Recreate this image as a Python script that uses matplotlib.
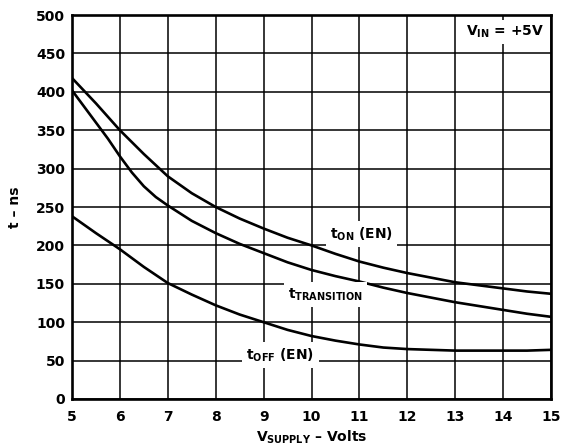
import matplotlib
matplotlib.use("Agg")
import matplotlib.pyplot as plt

plt.rcParams['font.family'] = ['DejaVu Sans']
plt.rcParams['font.weight'] = 'bold'
plt.rcParams['mathtext.fontset'] = 'custom'
plt.rcParams['mathtext.rm'] = 'DejaVu Sans:bold'
plt.rcParams['mathtext.bf'] = 'DejaVu Sans:bold'
plt.rcParams['mathtext.it'] = 'DejaVu Sans:bold'

# supply voltage (V)
v_on = [5, 5.5, 6, 6.5, 7, 7.5, 8, 8.5, 9, 9.5, 10, 10.5, 11, 11.5, 12, 12.5, 13, 13.5, 14, 14.5, 15]
t_on = [418, 385, 350, 319, 290, 268, 250, 235, 222, 210, 200, 189, 179, 171, 164, 158, 152, 148, 144, 140, 137]

v_tr = [5, 5.25, 5.5, 5.75, 6, 6.25, 6.5, 6.75, 7, 7.5, 8, 8.5, 9, 9.5, 10, 10.5, 11, 11.5, 12, 12.5, 13, 13.5, 14, 14.5, 15]
t_transition = [402, 381, 360, 339, 316, 295, 277, 263, 252, 232, 216, 202, 190, 178, 168, 160, 153, 145, 138, 132, 126, 121, 116, 111, 107]

v_off = [5, 5.5, 6, 6.5, 7, 7.5, 8, 8.5, 9, 9.5, 10, 10.5, 11, 11.5, 12, 12.5, 13, 13.5, 14, 14.5, 15]
t_off = [238, 216, 195, 172, 151, 136, 122, 110, 100, 90, 82, 76, 71, 67, 65, 64, 63, 63, 63, 63, 64]

x_ticks = list(range(5, 16))
y_ticks = list(range(0, 501, 50))

fig = plt.figure(figsize=(5.7, 4.48), dpi=100)
ax = fig.add_axes([0.1263, 0.1094, 0.8404, 0.857])

ax.plot(v_on, t_on, color='black', lw=1.9, zorder=3)
ax.plot(v_tr, t_transition, color='black', lw=1.9, zorder=3)
ax.plot(v_off, t_off, color='black', lw=1.9, zorder=3)

ax.set_xlim(5, 15)
ax.set_ylim(0, 500)
ax.set_xticks(x_ticks)
ax.set_yticks(y_ticks)
ax.grid(True, color='black', lw=1.1, zorder=1)
ax.set_axisbelow(True)
ax.tick_params(length=0, labelsize=10)
ax.tick_params(axis='x', pad=8)
ax.tick_params(axis='y', pad=5)
for s in ax.spines.values():
    s.set_linewidth(1.9)

ax.set_xlabel('V$_{\\mathrm{SUPPLY}}$ – Volts', fontsize=10, fontweight='bold', labelpad=3)
ax.set_ylabel('t – ns', fontsize=10, fontweight='bold', labelpad=10)

box = dict(facecolor='white', edgecolor='none', pad=3)
ax.text(11.05, 215, 't$_{\\mathrm{ON}}$ (EN)', fontsize=10, ha='center', va='center', bbox=box, zorder=4)
ax.text(10.3, 136, 't$_{\\mathrm{TRANSITION}}$', fontsize=10, ha='center', va='center', bbox=box, zorder=4)
ax.text(9.35, 57, 't$_{\\mathrm{OFF}}$ (EN)', fontsize=10, ha='center', va='center', bbox=box, zorder=4)
ax.text(14.05, 478, 'V$_{\\mathrm{IN}}$ = +5V', fontsize=10, ha='center', va='center', bbox=box, zorder=4)

fig.savefig('out.png', dpi=100)
